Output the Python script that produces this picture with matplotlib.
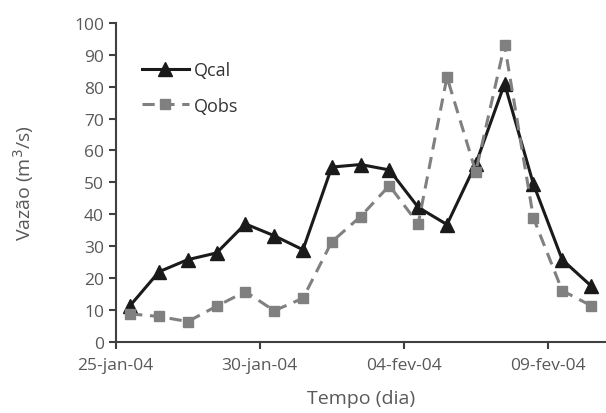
import matplotlib
matplotlib.use("Agg")
import matplotlib.pyplot as plt

# daily discharge, 25-jan-04 .. 10-fev-04
dias = list(range(17))
qcal = [11.4, 22.0, 25.8, 27.9, 37.0, 33.3, 28.9, 54.8, 55.6, 53.9,
        42.2, 36.8, 55.8, 80.9, 49.5, 25.8, 17.6]
qobs = [8.8, 8.0, 6.4, 11.2, 15.8, 9.8, 13.7, 31.4, 39.3, 49.0,
        37.0, 83.0, 53.3, 93.1, 38.9, 16.1, 11.4]
tick_pos = [0, 5, 10, 15]
tick_labels = ["25-jan-04", "30-jan-04", "04-fev-04", "09-fev-04"]

plt.rcParams["font.family"] = ["Open Sans", "DejaVu Sans"]
txt = "#595959"

fig = plt.figure(figsize=(6.06, 4.14), dpi=100)
ax = fig.add_axes([0.191, 0.1715, 0.808, 0.771])

x = [d + 0.5 for d in dias]
ax.plot(x, qcal, color="#1a1a1a", lw=2.2, marker="^", ms=9.5, label="Qcal")
ax.plot(x, qobs, color="#808080", lw=2.2, ls=(0, (4, 2.5)), marker="s", ms=7,
        label="Qobs")

ax.set_xlim(0, 17)
ax.set_ylim(0, 100)
ax.set_yticks(range(0, 101, 10))
ax.set_xticks(tick_pos)
ax.set_xticklabels(tick_labels)

for s in ["top", "right"]:
    ax.spines[s].set_visible(False)
for s in ["left", "bottom"]:
    ax.spines[s].set_color("#404040")
    ax.spines[s].set_linewidth(1.5)
ax.tick_params(colors="#404040", labelcolor=txt, labelsize=12.5, length=5, width=1.5)
ax.tick_params(axis="x", pad=6)

ax.set_xlabel("Tempo (dia)", fontsize=14, color=txt, labelpad=11)
ax.set_ylabel("Vazão (m$^3$/s)", fontsize=14, color=txt, labelpad=27)

leg = ax.legend(loc="upper left", bbox_to_anchor=(0.02, 0.93), frameon=False,
                fontsize=13, handlelength=2.6, handletextpad=0.3, labelspacing=0.95)
for t in leg.get_texts():
    t.set_color("#333333")

fig.savefig("out.png", dpi=100)
